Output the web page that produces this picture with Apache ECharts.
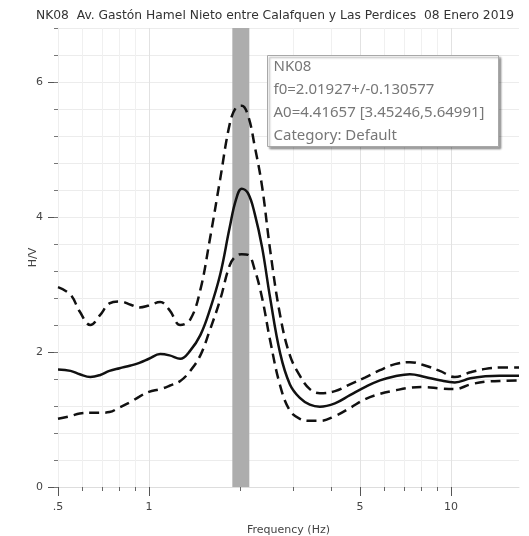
<!DOCTYPE html>
<html>
<head>
<meta charset="utf-8">
<script src="https://cdn.jsdelivr.net/npm/echarts@6/dist/echarts.min.js"></script>
<style>
  html, body { margin: 0; padding: 0; background: #fff; }
  #chart { width: 529px; height: 536px; }
</style>
</head>
<body>
<div id="chart"></div>
<script>
// frecuencias (Hz) y cocientes H/V
var freq = [0.5, 0.55, 0.59, 0.64, 0.69, 0.74, 0.8, 0.87, 0.93, 1.0, 1.09, 1.17, 1.27, 1.37, 1.48, 1.59,
  1.72, 1.85, 1.94, 2.03, 2.13, 2.24, 2.37, 2.52, 2.72, 2.93, 3.16, 3.41, 3.68, 4.13, 4.63, 5.19,
  5.82, 6.53, 7.31, 8.2, 9.19, 10.3, 11.6, 13, 14.5, 16.8];
var hvMean = [1.74, 1.72, 1.67, 1.63, 1.66, 1.72, 1.76, 1.80, 1.84, 1.90, 1.97, 1.95, 1.90, 2.02, 2.25, 2.62,
  3.14, 3.84, 4.25, 4.42, 4.35, 4.05, 3.55, 2.80, 1.98, 1.52, 1.32, 1.22, 1.19, 1.24, 1.36, 1.48,
  1.58, 1.64, 1.67, 1.63, 1.58, 1.55, 1.61, 1.64, 1.65, 1.65];
var hvUpper = [2.96, 2.85, 2.60, 2.40, 2.55, 2.72, 2.75, 2.70, 2.66, 2.69, 2.74, 2.62, 2.40, 2.48, 2.92, 3.66,
  4.55, 5.37, 5.62, 5.65, 5.50, 5.05, 4.45, 3.51, 2.54, 1.95, 1.65, 1.45, 1.39, 1.42, 1.52, 1.62,
  1.73, 1.82, 1.85, 1.80, 1.72, 1.63, 1.70, 1.75, 1.77, 1.77];
var hvLower = [1.01, 1.05, 1.09, 1.10, 1.10, 1.11, 1.18, 1.26, 1.34, 1.41, 1.45, 1.50, 1.57, 1.72, 1.95, 2.32,
  2.77, 3.28, 3.42, 3.45, 3.44, 3.22, 2.80, 2.17, 1.50, 1.13, 1.01, 0.98, 0.98, 1.05, 1.17, 1.30,
  1.38, 1.43, 1.47, 1.48, 1.46, 1.45, 1.52, 1.56, 1.57, 1.58];

var f0 = 2.01927, f0Std = 0.130577;
var xMajor = [0.5, 1, 5, 10];
var xMinor = [0.6, 0.7, 0.8, 0.9, 2, 3, 4, 6, 7, 8, 9];
var yMajor = [0, 2, 4, 6];
var infoLines = ['NK08', 'f0=2.01927+/-0.130577', 'A0=4.41657 [3.45246,5.64991]', 'Category: Default'];
var titleText = 'NK08  Av. Gastón Hamel Nieto entre Calafquen y Las Perdices  08 Enero 2019';

function pairs(ys) {
  return freq.map(function (f, i) { return [f, ys[i]]; });
}

var gridBox = { left: 58, right: 10, top: 28, bottom: 49, outerBoundsMode: 'none' };
var font = 'DejaVu Sans';

var myChart = echarts.init(document.getElementById('chart'));

var lineStyleSolid = { color: '#111', width: 2.5, type: 'solid' };
var lineStyleDash = { color: '#111', width: 2.5, type: [10, 6] };

// recuadro con f0 / A0
var infoChildren = [{
  type: 'rect', z: 100,
  shape: { x: 0, y: 0, width: 231, height: 91 },
  style: { fill: '#fff', stroke: '#a8a8a8', lineWidth: 1, shadowColor: 'rgba(0,0,0,0.35)', shadowBlur: 2, shadowOffsetX: 2, shadowOffsetY: 2 }
}];
infoLines.forEach(function (t, i) {
  infoChildren.push({
    type: 'text', z: 101,
    style: { text: t, x: 6, y: 4 + i * 23, fill: '#777', font: '15px "Noto Sans"' }
  });
});

var options = {
  animation: false,
  backgroundColor: '#fff',
  title: {
    text: titleText,
    left: 31,
    top: 5,
    textStyle: { fontFamily: font, fontSize: 12.3, fontWeight: 'normal', color: '#333' }
  },
  grid: [
    Object.assign({}, gridBox),
    Object.assign({}, gridBox)
  ],
  xAxis: [
    {
      type: 'log', logBase: 10, min: 0.5, max: 16.8, gridIndex: 0,
      name: 'Frequency (Hz)', nameLocation: 'middle', nameGap: 38, nameMoveOverlap: false,
      nameTextStyle: { fontFamily: font, fontSize: 11, color: '#444' },
      axisLine: { show: true, lineStyle: { color: '#ddd' } },
      axisTick: { show: true, customValues: xMajor, length: 9, lineStyle: { color: '#555' } },
      axisLabel: {
        customValues: xMajor, margin: 15, fontFamily: font, fontSize: 11, color: '#444',
        formatter: function (v) { return v === 0.5 ? '.5' : String(v); }
      },
      splitLine: { show: true, lineStyle: { color: '#e2e2e2' } }
    },
    {
      type: 'log', logBase: 10, min: 0.5, max: 16.8, gridIndex: 1,
      axisLine: { show: false },
      axisTick: { show: true, customValues: xMinor, length: 4, lineStyle: { color: '#666' } },
      axisLabel: { show: false },
      splitLine: { show: true, lineStyle: { color: '#f0f0f0' } }
    }
  ],
  yAxis: [
    {
      type: 'value', min: 0, max: 6.8, gridIndex: 0,
      name: 'H/V', nameLocation: 'middle', nameGap: 19, nameMoveOverlap: false,
      nameTextStyle: { fontFamily: font, fontSize: 11, color: '#444' },
      axisLine: { show: true, lineStyle: { color: '#eee' } },
      axisTick: { show: true, customValues: yMajor, length: 10, lineStyle: { color: '#555' } },
      axisLabel: { customValues: yMajor, margin: 15, fontFamily: font, fontSize: 11, color: '#444' },
      splitLine: { show: false }
    },
    {
      type: 'value', min: 0, max: 6.8, interval: 0.4, gridIndex: 1,
      axisLine: { show: false },
      axisTick: { show: true, length: 4, lineStyle: { color: '#777' } },
      axisLabel: { show: false },
      splitLine: { show: true, lineStyle: { color: '#ececec' } }
    }
  ],
  series: [
    {
      name: 'mean', type: 'line', xAxisIndex: 0, yAxisIndex: 0,
      data: pairs(hvMean), smooth: 0.4, showSymbol: false, lineStyle: lineStyleSolid, z: 5,
      markArea: {
        silent: true,
        itemStyle: { color: '#adadad' },
        data: [[{ xAxis: f0 - f0Std }, { xAxis: f0 + f0Std }]]
      }
    },
    {
      name: 'upper', type: 'line', xAxisIndex: 0, yAxisIndex: 0,
      data: pairs(hvUpper), smooth: 0.4, showSymbol: false, lineStyle: lineStyleDash, z: 5
    },
    {
      name: 'lower', type: 'line', xAxisIndex: 0, yAxisIndex: 0,
      data: pairs(hvLower), smooth: 0.4, showSymbol: false, lineStyle: lineStyleDash, z: 5
    }
  ],
  graphic: [
    { type: 'group', left: 267, top: 55, z: 100, children: infoChildren }
  ]
};
myChart.setOption(options);
</script>
</body>
</html>
